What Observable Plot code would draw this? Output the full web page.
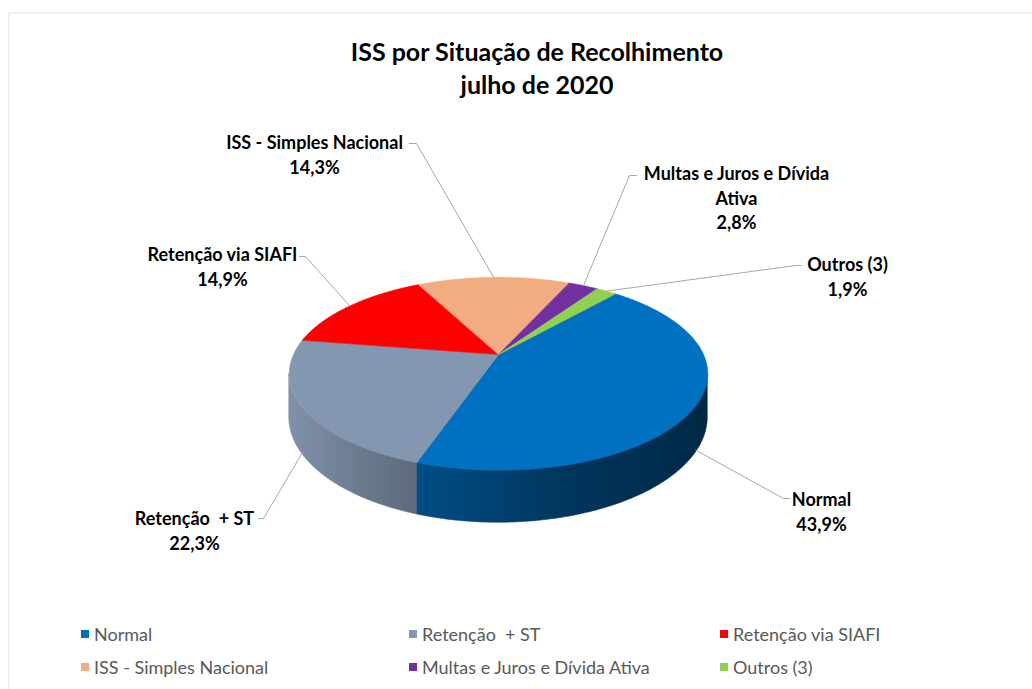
<!DOCTYPE html>
<html>
<head>
<meta charset="utf-8">
<script src="https://cdn.jsdelivr.net/npm/d3@7"></script>
<script src="https://cdn.jsdelivr.net/npm/@observablehq/plot@0.6"></script>
<style>
  html, body { margin: 0; padding: 0; background: #fff; }
  body { width: 1032px; height: 689px; position: relative; overflow: hidden; font-family: Lato, "Open Sans", sans-serif; }
  #frame { position: absolute; left: 8px; top: 12px; width: 1100px; height: 760px; border-left: 2px solid #f1f1f1; border-top: 2px solid #f1f1f1; box-sizing: border-box; }
  #title { position: absolute; left: 0; top: 35px; width: 1074px; text-align: center; font-weight: 700; font-size: 25px; line-height: 33px; color: #000; }
  #chart { position: absolute; left: 0; top: 110px; }
  #chart svg text { white-space: pre; }
  #legend { position: absolute; left: 0; top: 0; width: 1032px; height: 689px; pointer-events: none; }
  .item { position: absolute; display: flex; align-items: center; font-size: 18px; color: #595959; white-space: pre; transform: translateY(-50%); }
  .sw { width: 8px; height: 8px; margin-right: 5px; }
</style>
</head>
<body>
<div id="frame"></div>
<div id="title">ISS por Situação de Recolhimento<br>julho de 2020</div>
<div id="chart"></div>
<div id="legend"></div>
<script>
// ---- data ----
const categories = ["Normal", "Retenção  + ST", "Retenção via SIAFI", "ISS - Simples Nacional", "Multas e Juros e Dívida Ativa", "Outros (3)"];
const shares = [43.9, 22.3, 14.9, 14.3, 2.8, 1.9];
const sliceColors = ["#0070C0", "#8497B0", "#FF0000", "#F1AC82", "#7030A0", "#92D050"];

// ---- layout ----
const W = 1032, H = 500, TOP = 110;
const CX = 498, CY = 354, RX = 205, RY = 92.6, PERSP = 0.2, DEPTH = 42, START_DEG = 41;
const labelAnchor = [[821, 498], [194, 517], [222, 253], [314, 141], [736, 172], [847, 263]];
const leaderStart = [[789, 498], [258, 518], [299, 256], [409, 143], [636, 175], [801, 265]];
const leaderElbow = [[783, 498], [263, 518], [305, 256], [416, 143], [629, 175], [795, 265]];
const legendPos = [[81, 634], [409, 634], [720, 634], [81, 667], [409, 667], [720, 667]];
const LINE = 24.5, FONT = 18;

function project(deg) {
  const t = deg * Math.PI / 180;
  const k = 1 / (1 + PERSP * Math.cos(t));
  return {x: CX + RX * Math.sin(t) * k, y: CY - RY * Math.cos(t) * k, k};
}

const arcs = d3.pie().sort(null)
  .startAngle(START_DEG * Math.PI / 180)
  .endAngle((START_DEG + 360) * Math.PI / 180)(shares);
const slices = arcs.map((a, i) => ({
  i, cat: categories[i], value: shares[i], color: sliceColors[i],
  a0: a.startAngle * 180 / Math.PI, a1: a.endAngle * 180 / Math.PI
}));

// top faces
const faceRows = [];
for (const s of slices) {
  faceRows.push({cat: s.cat, color: s.color, x: CX, y: CY});
  const n = Math.max(2, Math.ceil((s.a1 - s.a0) * 2));
  for (let j = 0; j <= n; j++) {
    const p = project(s.a0 + (s.a1 - s.a0) * j / n);
    faceRows.push({cat: s.cat, color: s.color, x: p.x, y: p.y});
  }
}

// visible outer walls
const VIS = Math.acos(-PERSP) * 180 / Math.PI;
const wallMarks = [];
for (const s of slices) {
  for (const shift of [0, 360]) {
    const lo = Math.max(s.a0, VIS + shift), hi = Math.min(s.a1, 360 - VIS + shift);
    if (hi <= lo) continue;
    const rows = [];
    const n = Math.max(2, Math.ceil((hi - lo) * 2));
    for (let j = 0; j <= n; j++) {
      const p = project(lo + (hi - lo) * j / n);
      rows.push({x: p.x, yt: p.y, yb: p.y + DEPTH * p.k});
    }
    wallMarks.push(Plot.area(rows, {x1: "x", y1: "yt", y2: "yb", fill: `url(#wall-${s.i})`, stroke: `url(#wall-${s.i})`, strokeWidth: 0.6}));
  }
}

// labels
const fmt = v => d3.format(".1f")(v).replace(".", ",") + "%";
const wrap = name => {
  if (name.length <= 24) return name;
  const cut = name.lastIndexOf(" ");
  return name.slice(0, cut) + "\n" + name.slice(cut + 1);
};
const labelRows = slices.map(s => {
  const text = wrap(s.cat) + "\n" + fmt(s.value);
  const n = text.split("\n").length;
  return {text, x: labelAnchor[s.i][0], y: labelAnchor[s.i][1] + (n - 1) * LINE / 2};
});
const leaderRows = [];
for (const s of slices) {
  const mid = (s.a0 + s.a1) / 2;
  const m = ((mid % 360) + 360) % 360;
  const p = project(mid);
  const front = m > VIS && m < 360 - VIS;
  const end = {x: p.x, y: front ? p.y + DEPTH * p.k * 0.95 : p.y};
  leaderRows.push({cat: s.cat, x: leaderStart[s.i][0], y: leaderStart[s.i][1]});
  leaderRows.push({cat: s.cat, x: leaderElbow[s.i][0], y: leaderElbow[s.i][1]});
  leaderRows.push({cat: s.cat, x: end.x, y: end.y});
}

// gradient definitions for the side walls (light from the left)
const shadeStops = [[0, 0.97], [0.3, 0.70], [0.65, 0.49], [1, 0.36]];
function defs() {
  const ns = "http://www.w3.org/2000/svg";
  const d = document.createElementNS(ns, "defs");
  for (const s of slices) {
    const g = document.createElementNS(ns, "linearGradient");
    g.setAttribute("id", `wall-${s.i}`);
    g.setAttribute("gradientUnits", "userSpaceOnUse");
    g.setAttribute("x1", CX - RX * 1.03);
    g.setAttribute("x2", CX + RX * 1.03);
    g.setAttribute("y1", 0);
    g.setAttribute("y2", 0);
    const c = d3.rgb(s.color);
    for (const [o, f] of shadeStops) {
      const st = document.createElementNS(ns, "stop");
      st.setAttribute("offset", o);
      st.setAttribute("stop-color", d3.rgb(c.r * f, c.g * f, c.b * f).formatHex());
      g.appendChild(st);
    }
    d.appendChild(g);
  }
  return d;
}

const chart = Plot.plot({
  width: W, height: H,
  margin: 0,
  x: {domain: [0, W], range: [0, W], axis: null},
  y: {domain: [TOP, TOP + H], range: [0, H], axis: null},
  color: {type: "identity"},
  style: {background: "transparent", fontFamily: "Lato, 'Open Sans', sans-serif"},
  marks: [
    defs,
    ...wallMarks,
    Plot.line(faceRows, {x: "x", y: "y", z: "cat", fill: "color", stroke: "color", strokeWidth: 0.6, curve: "linear-closed"}),
    Plot.line(leaderRows, {x: "x", y: "y", z: "cat", stroke: "#a6a6a6", strokeWidth: 1, curve: "linear"}),
    Plot.text(labelRows, {x: "x", y: "y", text: "text", fontSize: FONT, fontWeight: "bold", fill: "#000", lineHeight: LINE / FONT, lineAnchor: "middle", textAnchor: "middle"})
  ]
});
document.getElementById("chart").appendChild(chart);

// legend
const legend = document.getElementById("legend");
slices.forEach(s => {
  const it = document.createElement("div");
  it.className = "item";
  it.style.left = legendPos[s.i][0] + "px";
  it.style.top = legendPos[s.i][1] + "px";
  const sw = document.createElement("span");
  sw.className = "sw";
  sw.style.background = s.color;
  it.appendChild(sw);
  it.appendChild(document.createTextNode(s.cat));
  legend.appendChild(it);
});
</script>
</body>
</html>
